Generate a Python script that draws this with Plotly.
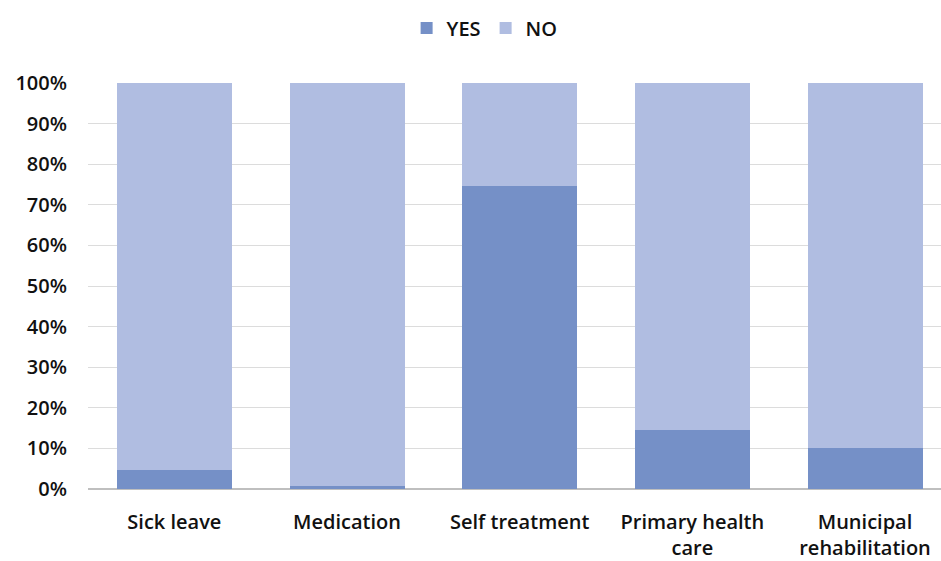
import plotly.graph_objects as go

categories = ["Sick leave", "Medication", "Self treatment", "Primary health<br>care", "Municipal<br>rehabilitation"]
yes_vals = [4.6, 0.8, 74.6, 14.5, 10.1]
no_vals = [100 - v for v in yes_vals]
y_ticks = [0, 10, 20, 30, 40, 50, 60, 70, 80, 90, 100]
y_tick_labels = [f"{v}%" for v in y_ticks]

font_family = "Open Sans, sans-serif"

fig = go.Figure()
fig.add_trace(go.Bar(x=list(range(5)), y=yes_vals, name="YES", marker=dict(color="#7590c7", line=dict(width=0)), width=0.666))
fig.add_trace(go.Bar(x=list(range(5)), y=no_vals, name="NO", marker=dict(color="#b0bde1", line=dict(width=0)), width=0.666))

fig.update_layout(
    barmode="stack",
    width=941, height=561,
    margin=dict(l=88, r=0, t=83, b=72),
    plot_bgcolor="white", paper_bgcolor="white",
    font=dict(family=font_family, size=20, color="#111111", weight=600),
    legend=dict(orientation="h", x=0.515, xref="container", xanchor="center", y=0.985, yref="container", yanchor="top",
                font=dict(size=20, weight=600), traceorder="normal", itemwidth=30, tracegroupgap=0),
    xaxis=dict(tickmode="array", tickvals=list(range(5)), ticktext=categories,
               range=[-0.5, 4.44], showgrid=False, showline=False, ticks="", zeroline=False,
               ticklabelstandoff=19),
    yaxis=dict(range=[0, 100], tickmode="array", tickvals=y_ticks, ticktext=y_tick_labels,
               showgrid=True, gridcolor="#dcdcdc", gridwidth=1, zeroline=True, zerolinecolor="#bfbfbf",
               zerolinewidth=2, ticks="", ticklabelstandoff=20),
    bargap=0.33,
)
fig.write_html("out.html")
